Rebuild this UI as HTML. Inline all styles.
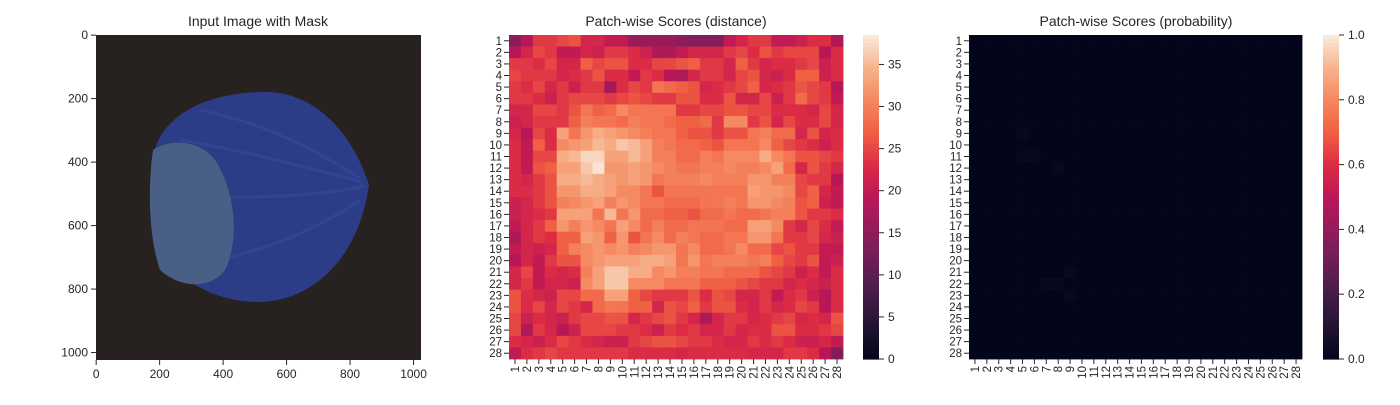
<!DOCTYPE html>
<html><head><meta charset="utf-8"><style>
body{margin:0;background:#fff;font-family:"Liberation Sans",sans-serif;}
svg text{font-family:"Liberation Sans",sans-serif;fill:#262626;}
</style></head><body>
<svg id="fig" width="1400" height="400" xmlns="http://www.w3.org/2000/svg">
<g>
<text x="258" y="26" font-size="14" text-anchor="middle">Input Image with Mask</text>
<rect x="96" y="35" width="325" height="325" fill="#27221f"/>
<g>
<path d="M152,160 C160,110 215,92 265,92 C320,92 355,140 369,185 C360,250 320,300 260,302 C200,302 160,265 152,230 Z" fill="#2d3c86"/>
<path d="M200,110 C250,120 300,140 360,178 M185,200 C240,195 300,200 365,186 M195,265 C250,255 310,235 360,200 M180,140 C240,150 300,165 362,182" stroke="#3a4c9e" stroke-width="3" fill="none" opacity="0.5"/>
<path d="M153,150 C170,138 200,140 215,160 C235,190 240,240 225,270 C210,290 180,288 160,270 C148,235 148,185 153,150 Z" fill="#4a5f86"/>
</g>
<g id="imgaxes"></g>
</g>
<g id="hm1">
<text x="676" y="26" font-size="14" text-anchor="middle">Patch-wise Scores (distance)</text>
</g>
<g id="hm2">
<text x="1136" y="26" font-size="14" text-anchor="middle">Patch-wise Scores (probability)</text>
</g>
</svg>
<script>
const distRows=[
[15,19,24,24,25,26,22,22,20,20,16,16,16,16,15,14,14,14,20,22,24,24,20,20,21,23,23,18],
[19,22,25,24,20,20,22,21,24,24,23,21,18,18,20,22,22,22,24,25,23,26,24,25,25,25,19,23],
[24,24,23,25,22,22,27,25,26,26,23,23,25,25,26,27,24,24,22,27,24,22,23,23,24,25,21,23],
[25,24,24,24,22,23,24,26,23,23,20,24,23,19,18,22,24,24,22,25,26,22,21,23,27,27,21,23],
[24,23,25,22,24,21,24,24,17,23,25,24,29,28,27,26,22,23,24,25,27,22,23,24,26,25,24,19],
[24,24,23,21,24,25,25,25,24,25,26,25,24,24,26,26,23,23,26,22,22,25,21,24,28,25,24,20],
[22,22,25,25,24,26,29,27,28,31,29,29,29,29,24,24,25,25,26,26,25,25,23,23,23,22,25,22],
[21,22,24,24,24,27,30,29,29,28,30,29,29,28,27,27,28,24,31,31,24,26,22,25,23,23,25,22],
[22,19,25,23,33,29,32,34,33,32,31,30,29,29,27,26,26,24,26,26,29,30,28,28,22,26,22,23],
[23,20,27,23,31,32,33,35,34,36,35,33,30,29,28,28,27,26,29,29,29,31,27,25,24,23,21,23],
[23,20,25,25,34,35,37,37,33,33,35,33,30,30,28,28,30,29,31,31,31,34,31,29,26,26,25,24],
[23,20,26,27,33,33,36,38,32,32,33,32,31,30,29,29,30,30,31,30,30,31,33,28,22,26,24,22],
[23,22,24,26,34,34,35,34,33,32,33,32,29,30,30,30,31,30,30,30,32,32,30,30,25,24,24,19],
[23,23,24,26,32,32,34,34,33,31,31,29,26,29,29,29,29,29,29,29,33,32,32,31,25,27,22,20],
[21,22,24,26,30,31,32,33,30,32,31,29,29,28,28,28,29,29,30,29,32,32,31,30,26,27,21,20],
[21,22,23,24,33,33,33,29,35,29,32,28,28,27,27,26,28,28,29,28,28,29,30,30,26,24,24,23],
[20,22,24,27,32,30,32,31,29,33,31,28,30,28,28,29,29,29,28,28,33,33,31,24,22,25,23,20],
[18,22,24,23,27,27,33,32,27,32,26,29,31,28,30,29,28,28,29,29,32,32,29,24,24,25,22,21],
[20,22,21,22,27,30,31,32,31,32,30,31,32,32,29,31,28,28,29,31,28,28,25,26,24,24,20,20],
[19,22,20,24,26,26,31,32,33,33,33,34,34,33,29,32,29,30,30,30,29,30,27,25,24,26,20,21],
[22,25,20,23,22,23,30,33,36,36,34,34,31,32,30,30,29,29,28,28,28,26,25,24,21,23,20,23],
[22,24,20,22,22,21,31,33,36,36,31,31,31,29,29,29,27,27,27,26,25,24,24,22,23,22,21,23],
[26,23,22,21,25,25,28,28,33,33,27,25,24,24,24,26,23,26,25,22,22,24,20,23,24,21,19,23],
[26,23,25,22,25,24,22,28,29,29,27,27,22,26,25,27,24,26,26,23,22,24,22,23,25,24,19,23],
[25,21,23,22,21,24,25,25,26,26,22,24,25,26,24,22,18,22,24,24,22,23,24,25,22,23,22,26],
[25,18,24,22,19,21,25,25,25,24,24,23,21,24,23,24,22,22,24,22,23,23,26,26,23,23,24,25],
[23,22,21,23,25,24,23,22,21,21,24,25,26,26,25,24,24,23,22,22,24,23,24,23,21,21,22,20],
[20,23,24,25,24,24,24,24,24,24,23,23,23,23,22,23,23,23,23,23,22,22,22,24,24,23,19,14]];
// probability: all zero except these few faint cells [row, col, value]
const probNonZero=[[9,5,0.02],[11,5,0.02],[11,6,0.02],[12,8,0.015],[21,9,0.02],[22,7,0.02],[22,8,0.02],[23,9,0.02]];
const labels=["1","2","3","4","5","6","7","8","9","10","11","12","13","14","15","16","17","18","19","20","21","22","23","24","25","26","27","28"];
const distTicks=[0,5,10,15,20,25,30,35];
const probTicks=[0,0.2,0.4,0.6,0.8,1.0];
const imgTicks=[0,200,400,600,800,1000];
const distMax=38.5;

const stops=[[0,[3,5,26]],[.1,[34,19,49]],[.2,[69,28,71]],[.3,[107,31,86]],[.4,[147,28,91]],[.5,[187,23,87]],[.6,[221,44,69]],[.7,[240,96,67]],[.8,[245,136,96]],[.9,[246,180,142]],[1,[250,235,221]]];
function rocket(t){t=Math.max(0,Math.min(1,t));for(let i=1;i<stops.length;i++){if(t<=stops[i][0]){const a=stops[i-1],b=stops[i];const f=(t-a[0])/(b[0]-a[0]);const c=a[1].map((v,k)=>Math.round(v+(b[1][k]-v)*f));return `rgb(${c[0]},${c[1]},${c[2]})`;}}return 'rgb(250,235,221)';}
const NS="http://www.w3.org/2000/svg";
function mk(tag,attrs,parent){const e=document.createElementNS(NS,tag);for(const k in attrs)e.setAttribute(k,attrs[k]);parent.appendChild(e);return e;}
const TOPY=35,BOTY=359;
function drawHeat(g,x0,x1,valFn){
  const n=28,cw=(x1-x0)/n,ch=(BOTY-TOPY)/n;
  for(let r=0;r<n;r++)for(let c=0;c<n;c++){
    const e=mk('rect',{x:x0+c*cw,y:TOPY+r*ch,width:cw+0.4,height:ch+0.4,fill:valFn(r,c)},g);
    
    
  }
  for(let i=0;i<n;i++){
    const y=TOPY+(i+0.5)*ch;
    mk('line',{x1:x0-5,x2:x0,y1:y,y2:y,stroke:'#262626','stroke-width':1},g);
    const t=mk('text',{x:x0-7,y:y+4,'font-size':11.5,'text-anchor':'end'},g);t.textContent=labels[i];
    
    
    const x=x0+(i+0.5)*cw;
    mk('line',{x1:x,x2:x,y1:BOTY,y2:BOTY+5,stroke:'#262626','stroke-width':1},g);
    const tx=mk('text',{x:0,y:0,'font-size':11.5,'text-anchor':'end',transform:`translate(${x+4},${BOTY+7}) rotate(-90)`},g);tx.textContent=labels[i];
    
    
  }
}
function drawCbar(g,x,ticks,max,fmt){
  const h=BOTY-TOPY,steps=80;
  for(let i=0;i<steps;i++){mk('rect',{x:x,y:TOPY+h*i/steps,width:16,height:h/steps+0.6,fill:rocket(1-(i+0.5)/steps)},g);}
  ticks.forEach(v=>{const y=BOTY-v/max*h;mk('line',{x1:x+16,x2:x+21,y1:y,y2:y,stroke:'#262626'},g);
    const t=mk('text',{x:x+25,y:y+4,'font-size':12},g);t.textContent=fmt(v);
    
    });
}
const g1=document.getElementById('hm1');
drawHeat(g1,509,843,(r,c)=>rocket(distRows[r][c]/distMax));
const cb1=mk('g',{},g1);


drawCbar(cb1,863,distTicks,distMax,v=>String(v));
const g2=document.getElementById('hm2');
const probGrid=labels.map(()=>labels.map(()=>0));
probNonZero.forEach(p=>{probGrid[p[0]-1][p[1]-1]=p[2];});
drawHeat(g2,969,1302,(r,c)=>rocket(probGrid[r][c]));
const cb2=mk('g',{},g2);


drawCbar(cb2,1323,probTicks,1,v=>v.toFixed(1));
const ia=document.getElementById('imgaxes');
const sc=325/1024;
imgTicks.forEach(v=>{
  const x=96+(v+0.5)*sc,y=35+(v+0.5)*sc;
  mk('line',{x1:x,x2:x,y1:360,y2:365,stroke:'#262626'},ia);
  const tx=mk('text',{x:x,y:378,'font-size':12,'text-anchor':'middle'},ia);tx.textContent=v;
  
  
  mk('line',{x1:91,x2:96,y1:y,y2:y,stroke:'#262626'},ia);
  const ty=mk('text',{x:88,y:y+4,'font-size':12,'text-anchor':'end'},ia);ty.textContent=v;
  
  
});
</script>
</body></html>
